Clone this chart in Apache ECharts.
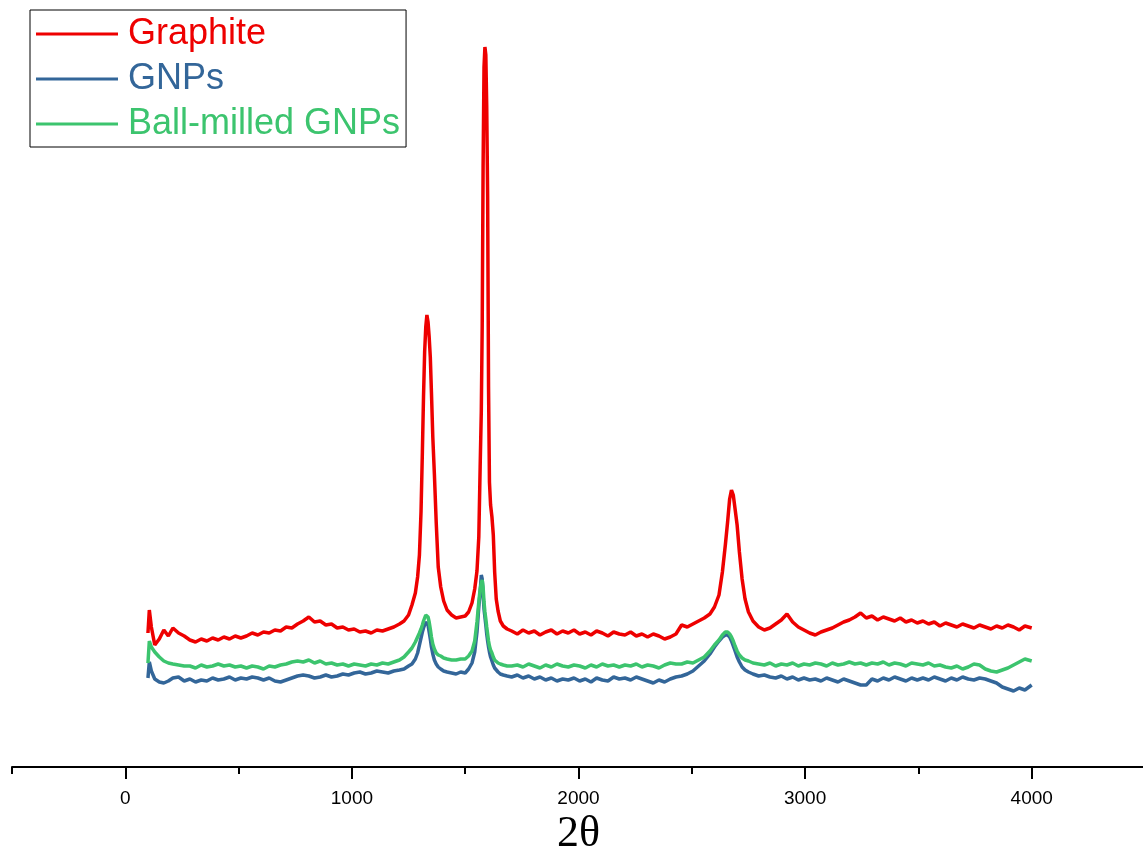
<!DOCTYPE html>
<html>
<head>
<meta charset="utf-8">
<title>Raman spectra</title>
<script src="https://cdn.jsdelivr.net/npm/echarts@6/dist/echarts.min.js"></script>
<style>
  html, body { margin: 0; padding: 0; background: #fff; }
  #chart { width: 1143px; height: 855px; }
</style>
</head>
<body>
<div id="chart"></div>
<script>
// x values shared by the three spectra (denser around the D, G and 2D bands)
const ramanShift = [
  100, 106, 115, 130, 150, 170, 190, 210, 235, 260,
  285, 310, 335, 360, 385, 410, 435, 460, 485, 510,
  535, 560, 585, 610, 635, 660, 685, 710, 735, 760,
  785, 810, 835, 860, 885, 910, 935, 960, 985, 1010,
  1035, 1060, 1085, 1110, 1135, 1160, 1185, 1210, 1230, 1250,
  1265, 1280, 1290, 1298, 1305, 1311, 1316, 1321, 1326, 1331,
  1336, 1341, 1346, 1351, 1357, 1364, 1372, 1381, 1392, 1405,
  1420, 1440, 1460, 1480, 1500, 1515, 1530, 1542, 1552, 1560,
  1566, 1571, 1575, 1579, 1583, 1587, 1591, 1595, 1599, 1603,
  1607, 1612, 1618, 1624, 1630, 1637, 1645, 1655, 1668, 1685,
  1705, 1730, 1755, 1780, 1805, 1830, 1855, 1880, 1905, 1930,
  1955, 1980, 2005, 2030, 2055, 2080, 2105, 2130, 2155, 2180,
  2205, 2230, 2255, 2280, 2305, 2330, 2355, 2380, 2405, 2430,
  2455, 2480, 2505, 2530, 2555, 2580, 2600, 2620, 2635, 2648,
  2658, 2667, 2675, 2683, 2691, 2700, 2710, 2722, 2735, 2750,
  2770, 2795, 2820, 2845, 2870, 2895, 2920, 2945, 2970, 2995,
  3020, 3045, 3070, 3095, 3120, 3145, 3170, 3195, 3220, 3245,
  3270, 3295, 3320, 3345, 3370, 3395, 3420, 3445, 3470, 3495,
  3520, 3545, 3570, 3595, 3620, 3645, 3670, 3695, 3720, 3745,
  3770, 3795, 3820, 3845, 3870, 3895, 3920, 3945, 3970, 4000
];

const graphite = [
  134, 157, 140, 122, 128, 137, 131, 139, 134, 131,
  127, 125, 128, 126, 129, 127, 130, 128, 131, 129,
  131, 134, 132, 135, 134, 137, 136, 140, 139, 143,
  146, 150, 145, 146, 142, 143, 139, 140, 137, 138,
  135, 136, 134, 137, 136, 138, 140, 143, 146, 152,
  162, 174, 190, 212, 255, 315, 370, 415, 440, 452,
  445, 430, 410, 375, 330, 293, 245, 200, 180, 166,
  157, 152, 149, 150, 151, 155, 164, 178, 196, 230,
  300, 355, 440, 600, 700, 720, 712, 660, 570, 380,
  285, 262, 250, 232, 195, 168, 156, 146, 141, 138,
  136, 133, 137, 134, 136, 132, 135, 137, 133, 136,
  134, 137, 133, 135, 132, 136, 134, 131, 135, 133,
  132, 135, 131, 133, 130, 133, 131, 128, 130, 133,
  142, 140, 143, 146, 149, 153, 160, 172, 195, 222,
  245, 268, 277, 272, 258, 242, 215, 188, 168, 155,
  146, 140, 137, 139, 143, 147, 153, 145, 140, 137,
  134, 132, 135, 137, 139, 142, 145, 147, 150, 154,
  149, 151, 147, 150, 148, 146, 149, 145, 147, 144,
  146, 143, 145, 141, 144, 142, 140, 143, 141, 139,
  142, 140, 138, 141, 139, 142, 140, 137, 141, 139
];

const gnps = [
  89, 105, 96, 88, 85, 84, 86, 89, 90, 86,
  88, 85, 87, 86, 89, 87, 88, 90, 87, 89,
  88, 90, 89, 87, 89, 86, 85, 87, 89, 91,
  92, 91, 89, 90, 92, 90, 91, 93, 92, 94,
  95, 93, 94, 96, 95, 94, 96, 97, 98, 101,
  103, 108, 114, 122, 129, 135, 139, 142, 144, 145,
  142, 135, 128, 120, 113, 107, 103, 100, 98, 96,
  95, 94, 93, 95, 94, 98, 104, 115, 135, 160,
  175, 192, 188, 172, 158, 150, 142, 133, 126, 120,
  115, 110, 106, 102, 99, 97, 95, 93, 92, 91,
  90, 92, 89, 91, 88, 90, 87, 89, 86, 88,
  87, 89, 86, 88, 85, 89, 87, 86, 90, 88,
  89, 87, 90, 88, 86, 84, 87, 85, 88, 90,
  91, 93, 96, 101, 106, 113, 120, 126, 130, 132,
  132, 130, 126, 121, 116, 110, 105, 100, 97, 95,
  93, 91, 92, 90, 89, 91, 88, 90, 87, 89,
  87, 88, 86, 89, 87, 85, 88, 86, 84, 82,
  82, 88, 86, 89, 87, 90, 88, 86, 89, 87,
  89, 87, 90, 88, 86, 89, 87, 90, 88, 87,
  89, 88, 86, 84, 80, 78, 76, 79, 77, 82
];

const ballMilledGnps = [
  104, 126, 120, 115, 110, 106, 104, 103, 102, 101,
  101, 99, 102, 100, 101, 103, 101, 102, 100, 101,
  99, 101, 100, 98, 101, 100, 102, 103, 105, 106,
  105, 107, 104, 106, 103, 104, 102, 103, 101, 103,
  102, 101, 103, 102, 104, 103, 105, 107, 110, 115,
  119, 125, 130, 134, 138, 142, 146, 149, 152, 153,
  150, 145, 138, 130, 123, 118, 114, 112, 111, 109,
  108, 107, 107, 108, 108, 111, 116, 126, 145, 165,
  178, 184, 187, 180, 165, 155, 148, 140, 133, 126,
  121, 117, 114, 110, 107, 105, 104, 103, 102, 101,
  101, 102, 100, 103, 101, 99, 102, 100, 103, 101,
  100, 102, 101, 99, 102, 100, 103, 101, 102, 100,
  102, 101, 103, 100, 102, 101, 99, 102, 104, 103,
  103, 105, 104, 107, 110, 116, 122, 127, 132, 135,
  135, 133, 130, 126, 121, 116, 112, 109, 107, 106,
  104, 103, 102, 104, 101, 103, 102, 104, 101, 103,
  102, 104, 103, 101, 104, 102, 103, 105, 103, 104,
  102, 104, 103, 105, 102, 104, 103, 101, 104, 103,
  102, 104, 101, 102, 100, 99, 101, 98, 100, 103,
  102, 98, 96, 95, 97, 99, 102, 105, 108, 106
];

const seriesNames = ['Graphite', 'GNPs', 'Ball-milled GNPs'];
const seriesColors = ['#ee0000', '#336699', '#3cc46e'];
const xTicks = [0, 1000, 2000, 3000, 4000];
const xMinorTicks = [-500, 500, 1500, 2500, 3500];

const pairs = (ys) => ramanShift.map((x, i) => [x, ys[i]]);
const spectra = [graphite, gnps, ballMilledGnps];

let chart = echarts.init(document.getElementById('chart'));

let option = {
  animation: false,
  backgroundColor: '#fff',
  grid: { left: 12, width: 1133, top: 0, bottom: 88, outerBoundsMode: 'none', containLabel: false },
  legend: {
    orient: 'vertical',
    left: 30,
    top: 10,
    padding: [6, 6, 5, 6],
    icon: 'rect',
    itemWidth: 82,
    itemHeight: 3,
    itemGap: 9,
    borderColor: '#000',
    borderWidth: 1,
    textStyle: {
      fontSize: 36,
      lineHeight: 34,
      fontFamily: '"Liberation Sans", Arial, sans-serif',
      padding: [0, 0, 0, 5]
    },
    data: seriesNames.map((n, i) => ({ name: n, textStyle: { color: seriesColors[i] } }))
  },
  xAxis: [
    {
      type: 'value',
      min: -500,
      max: 4500,
      position: 'bottom',
      name: '2θ',
      nameLocation: 'middle',
      nameGap: 40,
      nameTextStyle: { fontFamily: '"Liberation Serif", "Times New Roman", serif', fontSize: 44, color: '#000' },
      splitLine: { show: false },
      axisLine: { lineStyle: { color: '#000', width: 2 } },
      axisTick: { customValues: xTicks, length: 12, lineStyle: { color: '#000', width: 2 } },
      axisLabel: {
        customValues: xTicks,
        formatter: (v) => String(v),
        margin: 22,
        fontSize: 19,
        color: '#000',
        fontFamily: '"Liberation Sans", Arial, sans-serif'
      }
    },
    {
      type: 'value',
      min: -500,
      max: 4500,
      position: 'bottom',
      offset: 0,
      splitLine: { show: false },
      axisLine: { show: false },
      axisTick: { customValues: xMinorTicks, length: 7, lineStyle: { color: '#000', width: 2 } },
      axisLabel: { show: false }
    }
  ],
  yAxis: { type: 'value', min: 0, max: 767, show: false },
  series: spectra.map((ys, i) => ({
    name: seriesNames[i],
    type: 'line',
    xAxisIndex: 0,
    data: pairs(ys),
    symbol: 'none',
    showSymbol: false,
    color: seriesColors[i],
    lineStyle: { width: 3.5, color: seriesColors[i] }
  }))
};

chart.setOption(option);
window.addEventListener('resize', () => {
  chart.resize();
});
</script>
</body>
</html>
